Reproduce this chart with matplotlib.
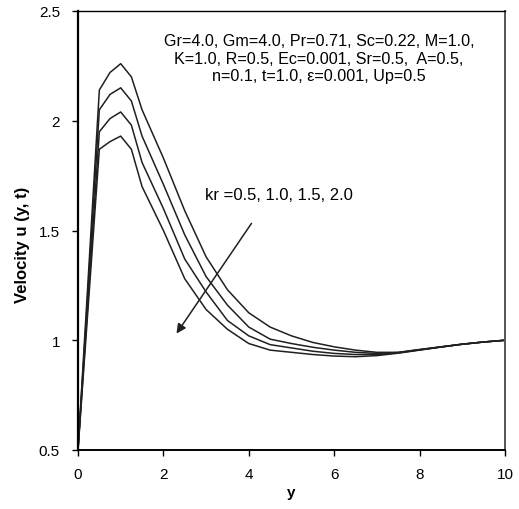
import matplotlib
matplotlib.use("Agg")
import matplotlib.pyplot as plt

plt.rcParams['font.family'] = ['Liberation Sans', 'DejaVu Sans']

y = [0, 0.5, 0.75, 1.0, 1.25, 1.5, 2.0, 2.5, 3.0, 3.5, 4.0, 4.5, 5.0, 5.5,
     6.0, 6.5, 7.0, 7.5, 8.0, 8.5, 9.0, 9.5, 10.0]

u_kr05 = [0.5, 2.14, 2.22, 2.26, 2.20, 2.05, 1.83, 1.59, 1.38, 1.23, 1.125,
          1.06, 1.02, 0.99, 0.97, 0.955, 0.945, 0.945, 0.958, 0.97, 0.982,
          0.992, 1.0]
u_kr10 = [0.5, 2.05, 2.12, 2.15, 2.09, 1.93, 1.71, 1.48, 1.29, 1.16, 1.06,
          1.005, 0.985, 0.968, 0.955, 0.945, 0.94, 0.944, 0.957, 0.97, 0.982,
          0.992, 1.0]
u_kr15 = [0.5, 1.95, 2.01, 2.04, 1.98, 1.81, 1.60, 1.37, 1.22, 1.09, 1.02,
          0.98, 0.965, 0.95, 0.94, 0.935, 0.935, 0.943, 0.956, 0.969, 0.982,
          0.992, 1.0]
u_kr20 = [0.5, 1.87, 1.905, 1.93, 1.87, 1.70, 1.50, 1.28, 1.14, 1.05, 0.985,
          0.955, 0.945, 0.935, 0.928, 0.925, 0.93, 0.941, 0.955, 0.969, 0.982,
          0.992, 1.0]

xticks = [0, 2, 4, 6, 8, 10]
yticks = [0.5, 1, 1.5, 2, 2.5]
ytick_labels = ['0.5', '1', '1.5', '2', '2.5']

params_text = ("Gr=4.0, Gm=4.0, Pr=0.71, Sc=0.22, M=1.0,\n"
               "K=1.0, R=0.5, Ec=0.001, Sr=0.5,  A=0.5,\n"
               "n=0.1, t=1.0, \u03b5=0.001, Up=0.5")
kr_text = "kr =0.5, 1.0, 1.5, 2.0"

fig = plt.figure(figsize=(5.19, 5.10), dpi=100)
ax = fig.add_axes([78/519, 1-451/510, (505-78)/519, (451-12)/510])

for u in (u_kr05, u_kr10, u_kr15, u_kr20):
    ax.plot(y, u, color='#202020', lw=1.1)

ax.set_xlim(0, 10)
ax.set_ylim(0.5, 2.5)
ax.set_xticks(xticks)
ax.set_yticks(yticks)
ax.set_yticklabels(ytick_labels)
ax.tick_params(direction='out', length=4, width=1, labelsize=11)
ax.tick_params(axis='y', pad=9)
ax.tick_params(axis='x', pad=8)
for s in ax.spines.values():
    s.set_linewidth(1.0)
ax.spines['left'].set_linewidth(1.6)
ax.spines['bottom'].set_linewidth(1.4)
ax.spines['right'].set_color('#555555')
ax.spines['right'].set_linewidth(1.4)

ax.set_xlabel('y', fontsize=11, fontweight='bold')
ax.xaxis.set_label_coords(0.5, -(486-451)/(451-12))
ax.set_ylabel('Velocity u (y, t)', fontsize=12, fontweight='bold')
ax.yaxis.set_label_coords(-(78-30)/(505-78), (451-245)/(451-12))

ax.text(5.64, 2.285, params_text, ha='center', va='center', fontsize=11.6,
        linespacing=1.2)
ax.text(2.97, 1.666, kr_text, ha='left', va='center', fontsize=12)

ax.annotate('', xy=(2.27, 1.02), xytext=(4.1, 1.543),
            arrowprops=dict(arrowstyle='-|>', color='#202020', lw=1.1,
                            mutation_scale=14))

fig.savefig('out.png', dpi=100)
